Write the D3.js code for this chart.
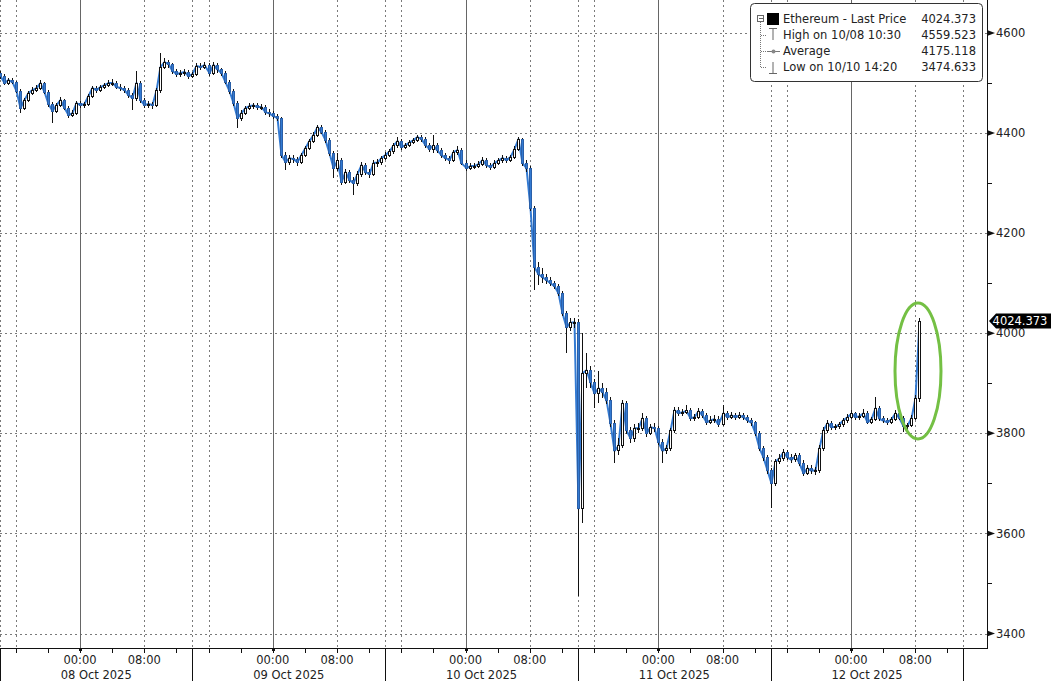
<!DOCTYPE html>
<html><head><meta charset="utf-8">
<script src="https://cdn.jsdelivr.net/npm/d3@7/dist/d3.min.js"></script>
<style>
body{margin:0;background:#fff}
svg{display:block}
text{font-family:"DejaVu Sans",Verdana,sans-serif;fill:#222}
</style>
</head><body>
<svg id="chart" width="1051" height="681"></svg>
<script>
// ---- data (30-minute bars, Ethereum last price) ----
const firstOpen = 4516;
const closes = [
4520,4514,4500,4506,4502,4484,4450,4466,4480,4486,
4490,4500,4482,4458,4444,4456,4466,4450,4436,4440,
4460,4456,4458,4474,4490,4486,4492,4496,4500,4500,
4492,4490,4486,4476,4470,4500,4466,4456,4458,4456,
4485,4532,4542,4538,4524,4518,4520,4522,4514,4518,
4534,4532,4536,4520,4536,4527,4520,4502,4484,4460,
4430,4440,4450,4454,4455,4452,4452,4442,4439,4434,
4430,4356,4342,4350,4348,4342,4356,4370,4384,4396,
4412,4402,4386,4360,4330,4345,4302,4322,4306,4300,
4318,4336,4322,4318,4340,4341,4350,4356,4363,4375,
4384,4372,4376,4381,4386,4392,4388,4376,4368,4375,
4365,4356,4350,4346,4362,4366,4340,4330,4334,4334,
4338,4346,4336,4332,4340,4345,4350,4346,4352,4368,
4388,4340,4330,4250,4132,4118,4112,4106,4100,4094,
4080,4040,4012,4021,4022,3650,3920,3926,3902,3880,
3890,3882,3866,3820,3765,3775,3860,3806,3790,3810,
3810,3830,3800,3812,3810,3782,3765,3770,3805,3846,
3840,3842,3845,3830,3832,3844,3836,3822,3826,3828,
3818,3840,3832,3836,3832,3836,3832,3826,3821,3800,
3770,3752,3726,3700,3743,3750,3762,3752,3747,3755,
3740,3720,3730,3725,3726,3770,3806,3820,3812,3813,
3818,3826,3832,3839,3832,3834,3840,3822,3828,3850,
3829,3825,3822,3828,3840,3830,3814,3815,3830,3870,
4024.373];
const highs = [
4526,4524,4518,4510,4510,4505,4488,4470,4484,4492,
4496,4506,4503,4486,4462,4460,4472,4468,4454,4446,
4464,4464,4462,4478,4494,4494,4496,4500,4506,4508,
4504,4498,4494,4490,4480,4524,4504,4470,4464,4462,
4490,4559.523,4550,4546,4540,4528,4526,4528,4526,4522,
4540,4540,4542,4540,4542,4540,4530,4524,4506,4488,
4464,4446,4454,4460,4460,4460,4458,4456,4448,4444,
4438,4432,4362,4356,4356,4352,4360,4374,4388,4402,
4416,4416,4406,4390,4364,4360,4350,4328,4326,4312,
4324,4342,4340,4328,4346,4348,4354,4362,4368,4380,
4392,4388,4380,4386,4390,4396,4396,4392,4380,4396,
4380,4370,4360,4354,4366,4374,4370,4346,4340,4340,
4344,4352,4350,4340,4346,4350,4356,4354,4356,4374,
4392,4390,4346,4334,4254,4142,4130,4118,4112,4104,
4098,4084,4044,4030,4030,4028,4000,3960,3934,3908,
3925,3900,3890,3872,3826,3790,3866,3864,3812,3818,
3820,3840,3834,3818,3820,3814,3788,3776,3810,3852,
3852,3848,3856,3850,3838,3850,3848,3840,3834,3836,
3834,3856,3844,3842,3840,3842,3840,3836,3830,3824,
3804,3774,3756,3730,3748,3758,3768,3766,3758,3760,
3760,3746,3736,3736,3732,3776,3812,3826,3824,3818,
3822,3830,3838,3846,3842,3840,3848,3844,3832,3872,
3854,3834,3830,3832,3846,3844,3834,3820,3836,3876,
4030];
const lows = [
4512,4508,4496,4497,4498,4480,4440,4446,4462,4476,
4482,4486,4478,4452,4420,4440,4452,4446,4430,4432,
4436,4450,4450,4454,4470,4480,4482,4488,4492,4494,
4488,4484,4480,4470,4446,4464,4460,4450,4450,4448,
4452,4480,4528,4530,4518,4512,4512,4514,4508,4510,
4514,4526,4528,4514,4516,4520,4514,4498,4478,4454,
4410,4424,4436,4446,4448,4446,4446,4436,4432,4428,
4424,4350,4326,4336,4340,4334,4338,4352,4366,4380,
4392,4398,4380,4354,4310,4324,4296,4298,4300,4276,
4294,4312,4316,4310,4314,4332,4336,4346,4352,4358,
4370,4366,4368,4372,4378,4382,4382,4370,4362,4360,
4360,4350,4344,4338,4342,4356,4336,4324,4326,4328,
4330,4334,4330,4326,4328,4336,4340,4340,4342,4348,
4364,4334,4322,4244,4086,4096,4100,4098,4094,4088,
4074,4034,3960,4004,4010,3474.633,3620,3890,3890,3850,
3860,3870,3858,3812,3740,3756,3770,3798,3780,3782,
3800,3804,3792,3796,3802,3776,3740,3758,3764,3800,
3834,3834,3838,3824,3824,3828,3830,3816,3818,3820,
3812,3814,3826,3828,3826,3828,3826,3820,3814,3794,
3764,3744,3718,3650,3694,3738,3744,3746,3740,3742,
3734,3714,3716,3718,3716,3720,3764,3800,3806,3806,
3808,3812,3820,3828,3826,3826,3830,3818,3818,3824,
3824,3820,3816,3818,3824,3826,3802,3806,3812,3826,
3862];
const yTickValues = [3400,3600,3800,4000,4200,4400,4600];
const yMinorValues = [3500,3700,3900,4100,4300,4500];
const dayLabels = ["08 Oct 2025","09 Oct 2025","10 Oct 2025","11 Oct 2025","12 Oct 2025"];
const legendLabels = ["Ethereum - Last Price","High on 10/08 10:30","Average","Low on 10/10 14:20"];
const legendValues = ["4024.373","4559.523","4175.118","3474.633"];
const lastPrice = 4024.373;

// ---- layout ----
const W = 1051, H = 681, plotR = 987, plotB = 648;
const BLUE = "#337ad2";
const svg = d3.select("#chart");
svg.append("rect").attr("width",W).attr("height",H).attr("fill","#fff");

const barStart = Date.UTC(2025,9,7,13,30);
const bars = closes.map((c,i)=>({
  t: new Date(barStart + i*30*60000),
  o: i ? closes[i-1] : firstOpen, c, h: highs[i], l: lows[i]
}));

const x = d3.scaleUtc()
  .domain([new Date(Date.UTC(2025,9,8)), new Date(Date.UTC(2025,9,12))])
  .range([80, 851]);
const y = d3.scaleLinear().domain([3400,4600]).range([633.5,33]);

const tStart = new Date(Date.UTC(2025,9,7,14)), tEnd = new Date(Date.UTC(2025,9,12,14));
const hours4 = d3.utcHour.every(4).range(tStart, new Date(+tEnd+1));
const midnights = d3.utcDay.range(new Date(Date.UTC(2025,9,8)), new Date(Date.UTC(2025,9,12,1)));
const boundaries = d3.utcDay.range(new Date(Date.UTC(2025,9,7)), new Date(Date.UTC(2025,9,13))).map(d=>d3.utcHour.offset(d,14));
const dotted = hours4.filter(d=>[8,16].includes(d.getUTCHours())).concat(boundaries);

// grid
const grid = svg.append("g").attr("shape-rendering","crispEdges");
grid.selectAll("line.hg").data(yTickValues).join("line")
  .attr("x1",0).attr("x2",plotR).attr("y1",d=>Math.round(y(d))+0.5).attr("y2",d=>Math.round(y(d))+0.5)
  .attr("stroke","#7a7a7a").attr("stroke-dasharray","2,3");
grid.selectAll("line.vd").data(dotted).join("line")
  .attr("x1",d=>Math.round(x(d))+0.5).attr("x2",d=>Math.round(x(d))+0.5).attr("y1",0).attr("y2",plotB)
  .attr("stroke","#7a7a7a").attr("stroke-dasharray","2,3");
grid.selectAll("line.vs").data(midnights).join("line")
  .attr("x1",d=>Math.round(x(d))+0.5).attr("x2",d=>Math.round(x(d))+0.5).attr("y1",0).attr("y2",plotB)
  .attr("stroke","#666");

// close line (blue) under candles
const closeLine = d3.line().x(d=>Math.round(x(d.t))+0.5).y(d=>y(d.c));
svg.append("path").datum(bars).attr("d",closeLine)
  .attr("fill","none").attr("stroke",BLUE).attr("stroke-width",2).attr("stroke-linejoin","round");

// candles
const cg = svg.append("g").attr("shape-rendering","crispEdges");
cg.selectAll("line.wick").data(bars).join("line")
  .attr("x1",d=>Math.round(x(d.t))+0.5).attr("x2",d=>Math.round(x(d.t))+0.5)
  .attr("y1",d=>y(d.h)).attr("y2",d=>y(d.l))
  .attr("stroke","#111");
cg.selectAll("rect.body").data(bars).join("rect")
  .attr("x",d=>Math.round(x(d.t))-1)
  .attr("width",2)
  .attr("y",d=>y(Math.max(d.o,d.c)))
  .attr("height",d=>Math.max(1,Math.abs(y(d.o)-y(d.c))))
  .attr("fill",d=>d.c>=d.o?"#fff":BLUE)
  .attr("stroke",d=>d.c>=d.o?"#111":"#2a5fa8");

// highlight ellipse
svg.append("ellipse").attr("cx",918).attr("cy",371).attr("rx",23).attr("ry",68)
  .attr("fill","none").attr("stroke","#74c044").attr("stroke-width",3);

// right axis
const ax = svg.append("g");
ax.append("line").attr("x1",plotR+0.5).attr("x2",plotR+0.5).attr("y1",0).attr("y2",plotB)
  .attr("stroke","#111").attr("shape-rendering","crispEdges");
ax.selectAll("path.arrow").data(yTickValues).join("path")
  .attr("d",d=>`M${plotR},${y(d)-3} L${plotR+8},${y(d)} L${plotR},${y(d)+3} Z`).attr("fill","#111");
ax.selectAll("line.minor").data(yMinorValues).join("line")
  .attr("x1",plotR).attr("x2",plotR+5).attr("y1",d=>Math.round(y(d))+0.5).attr("y2",d=>Math.round(y(d))+0.5)
  .attr("stroke","#111").attr("shape-rendering","crispEdges");
ax.selectAll("text.yl").data(yTickValues).join("text")
  .attr("x",plotR+9).attr("y",d=>y(d)).attr("dy","0.36em")
  .attr("font-size","11.5px").text(d=>d);

// last price tag
const ty = y(lastPrice);
ax.append("path")
  .attr("d",`M${plotR+2},${ty} L${plotR+9},${ty-7.5} L${W},${ty-7.5} L${W},${ty+7.5} L${plotR+9},${ty+7.5} Z`)
  .attr("fill","#000");
ax.append("text").attr("x",1020).attr("y",ty).attr("dy","0.36em").attr("text-anchor","middle")
  .attr("font-size","11.5px").style("fill","#fff").text(d3.format(".3f")(lastPrice));

// bottom axis
const bx = svg.append("g").attr("shape-rendering","crispEdges");
bx.append("line").attr("x1",0).attr("x2",plotR+1).attr("y1",plotB+0.5).attr("y2",plotB+0.5).attr("stroke","#111");
bx.selectAll("line.t4").data(hours4).join("line")
  .attr("x1",d=>Math.round(x(d))+0.5).attr("x2",d=>Math.round(x(d))+0.5)
  .attr("y1",plotB).attr("y2",plotB+5).attr("stroke","#111");
bx.selectAll("rect.mid").data(midnights).join("rect")
  .attr("x",d=>Math.round(x(d))-1).attr("y",plotB).attr("width",3).attr("height",3).attr("fill","#111");
bx.selectAll("line.bd").data(boundaries).join("line")
  .attr("x1",d=>Math.round(x(d))+0.5).attr("x2",d=>Math.round(x(d))+0.5)
  .attr("y1",plotB).attr("y2",H).attr("stroke","#111");
const hourLabels = hours4.filter(d=>[0,8].includes(d.getUTCHours()));
svg.selectAll("text.hl").data(hourLabels).join("text")
  .attr("x",d=>x(d)).attr("y",664).attr("text-anchor","middle").attr("font-size","11.5px")
  .text(d=>d3.utcFormat("%H:%M")(d));
svg.selectAll("text.dl").data(dayLabels).join("text")
  .attr("x",(d,i)=>(Math.max(0,x(boundaries[i]))+x(boundaries[i+1]))/2)
  .attr("y",679).attr("text-anchor","middle").attr("font-size","11.5px").text(d=>d);

// legend
const lg = svg.append("g");
lg.append("rect").attr("x",750.5).attr("y",3.5).attr("width",232).attr("height",78).attr("rx",4)
  .attr("fill","#fff").attr("stroke","#333");
const rowY = [19,35,51,67];
lg.append("line").attr("x1",760.5).attr("x2",760.5).attr("y1",22).attr("y2",rowY[3]+1)
  .attr("stroke","#777").attr("stroke-dasharray","1,1").attr("shape-rendering","crispEdges");
lg.selectAll("line.br").data(rowY.slice(1)).join("line")
  .attr("x1",760.5).attr("x2",767).attr("y1",d=>d+0.5).attr("y2",d=>d+0.5)
  .attr("stroke","#777").attr("stroke-dasharray","1,1").attr("shape-rendering","crispEdges");
lg.append("rect").attr("x",757.5).attr("y",15.5).attr("width",6).attr("height",6).attr("fill","#fff").attr("stroke","#666").attr("shape-rendering","crispEdges");
lg.append("line").attr("x1",759).attr("x2",763).attr("y1",18.5).attr("y2",18.5).attr("stroke","#666").attr("shape-rendering","crispEdges");
lg.append("rect").attr("x",767).attr("y",13).attr("width",12).attr("height",12).attr("fill","#000");
lg.append("path").attr("d",`M769,${rowY[1]-6.5} H777 M773,${rowY[1]-6.5} V${rowY[1]+5}`).attr("stroke","#666").attr("fill","none");
lg.append("line").attr("x1",767).attr("x2",780).attr("y1",rowY[2]+0.5).attr("y2",rowY[2]+0.5).attr("stroke","#777");
lg.append("circle").attr("cx",773.5).attr("cy",rowY[2]+0.5).attr("r",2).attr("fill","#888");
lg.append("path").attr("d",`M773,${rowY[3]-5} V${rowY[3]+6.5} M769,${rowY[3]+6.5} H777`).attr("stroke","#666").attr("fill","none");
lg.selectAll("text.ll").data(legendLabels).join("text")
  .attr("x",783).attr("y",(d,i)=>rowY[i]).attr("dy","0.36em").attr("font-size","11.5px").text(d=>d);
lg.selectAll("text.lv").data(legendValues).join("text")
  .attr("x",976).attr("y",(d,i)=>rowY[i]).attr("dy","0.36em").attr("text-anchor","end").attr("font-size","11.5px").text(d=>d);
</script>
</body></html>
